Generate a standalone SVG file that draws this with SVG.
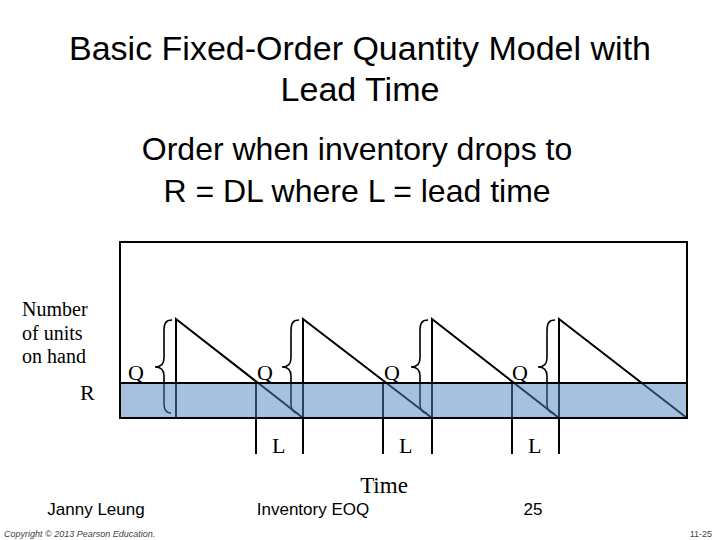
<svg xmlns="http://www.w3.org/2000/svg" width="720" height="540" viewBox="0 0 720 540">
<style>
.sans{font-family:"Liberation Sans",Arial,sans-serif;fill:#000}
.serif{font-family:"Liberation Serif","Times New Roman",serif;fill:#000}
.ln{stroke:#000;stroke-width:2;fill:none}
.br{stroke:#000;stroke-width:1.6;fill:none}
</style>
<defs>
<path id="brace" d="M-4,320 C-10,320 -12,323 -12,331 L-12,358 C-12,364 -15,367 -21,367 C-15,367 -12,370 -12,376 L-12,404 C-12,410 -10,413 -5,413"/>
</defs>
<rect width="720" height="540" fill="#fff"/>
<g id="title">
<text class="sans" x="360" y="60" font-size="34" text-anchor="middle">Basic Fixed-Order Quantity Model with</text>
<text class="sans" x="360" y="101" font-size="34" text-anchor="middle">Lead Time</text>
</g>
<g id="subtitle">
<text class="sans" x="357" y="160" font-size="32" text-anchor="middle">Order when inventory drops to</text>
<text class="sans" x="357" y="202" font-size="32" text-anchor="middle">R = DL where L = lead time</text>
</g>
<g id="chart">
<g id="connectors">
<polyline class="ln" points="176,418 176,319 303,418"/>
<polyline class="ln" points="303,454 303,319 432,418"/>
<polyline class="ln" points="432,454 432,319 559,418"/>
<polyline class="ln" points="559,454 559,319 687,418"/>
<line class="ln" x1="256" y1="383" x2="256" y2="454"/>
<line class="ln" x1="383" y1="383" x2="383" y2="454"/>
<line class="ln" x1="512" y1="383" x2="512" y2="454"/>
<use href="#brace" class="br" transform="translate(176,0)"/>
<use href="#brace" class="br" transform="translate(303,0)"/>
<use href="#brace" class="br" transform="translate(432,0)"/>
<use href="#brace" class="br" transform="translate(559,0)"/>
</g>
<rect id="band" x="120" y="383" width="567" height="35" fill="#4f81bd" fill-opacity="0.5"/>
<rect id="frame" class="ln" x="120" y="242" width="567" height="176"/>
<line class="ln" x1="120" y1="383" x2="687" y2="383"/>
<g id="labels">
<text class="serif" x="128" y="380" font-size="22">Q</text>
<text class="serif" x="257" y="380" font-size="22">Q</text>
<text class="serif" x="384" y="380" font-size="22">Q</text>
<text class="serif" x="512" y="380" font-size="22">Q</text>
<text class="serif" x="272" y="453" font-size="22">L</text>
<text class="serif" x="399" y="453" font-size="22">L</text>
<text class="serif" x="528" y="453" font-size="22">L</text>
<text class="serif" x="80" y="400" font-size="22">R</text>
<text class="serif" x="22" y="316" font-size="20">Number</text>
<text class="serif" x="22" y="340" font-size="20">of units</text>
<text class="serif" x="22" y="363" font-size="20">on hand</text>
<text class="serif" x="384" y="493" font-size="23" text-anchor="middle">Time</text>
</g>
</g>
<g id="footer">
<text class="sans" x="96" y="515" font-size="17" text-anchor="middle">Janny Leung</text>
<text class="sans" x="313" y="515" font-size="17" text-anchor="middle">Inventory EOQ</text>
<text class="sans" x="533" y="515" font-size="17" text-anchor="middle">25</text>
<text class="sans" x="4" y="537" font-size="9" font-style="italic" style="fill:#444">Copyright © 2013 Pearson Education.</text>
<text class="sans" x="712" y="537" font-size="9" text-anchor="end" style="fill:#444">11-25</text>
</g>
</svg>
